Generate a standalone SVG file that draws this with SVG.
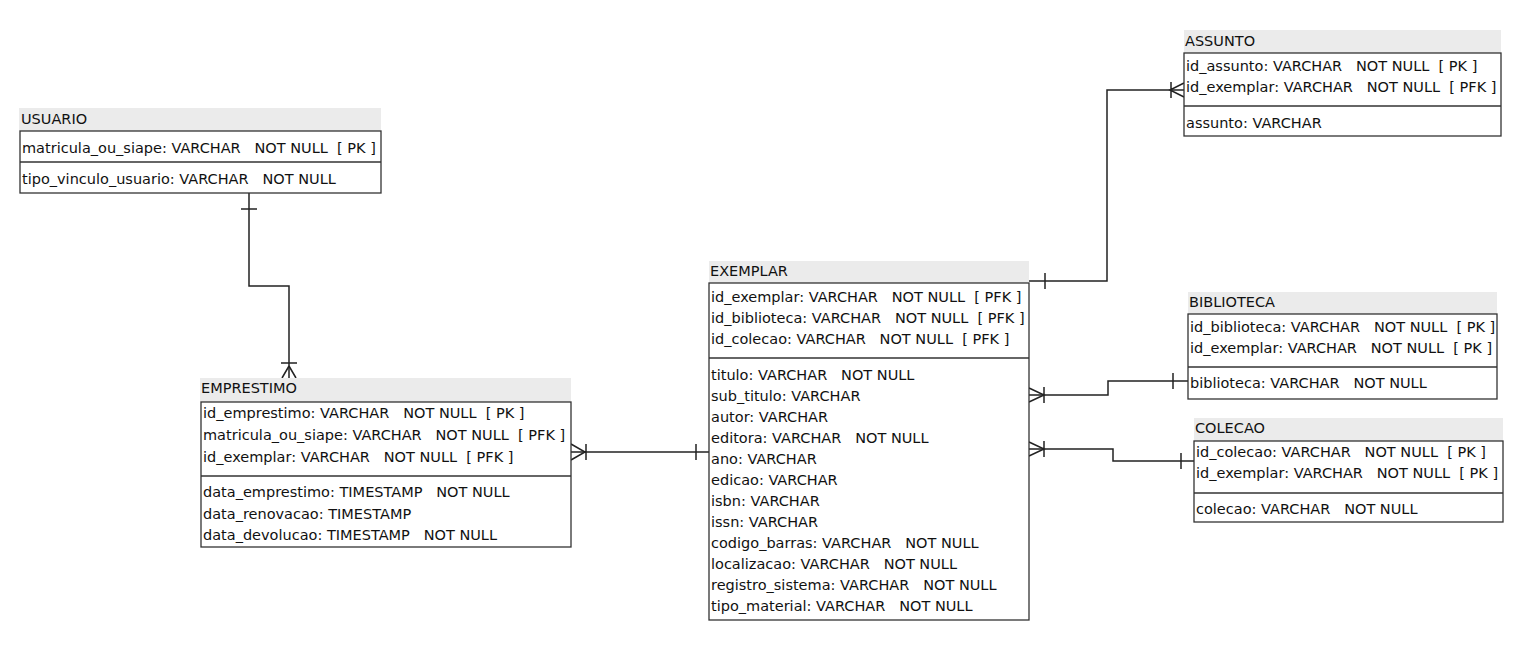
<svg xmlns="http://www.w3.org/2000/svg" width="1534" height="672" viewBox="0 0 1534 672">
<style>
.bg{fill:#ffffff}
.band{fill:#ebebeb}
.box{fill:#ffffff;stroke:#333333;stroke-width:1.3}
.sep{stroke:#333333;stroke-width:1.3}
.t{font-family:"DejaVu Sans",Verdana,sans-serif;font-size:14.5px;fill:#111111;white-space:pre}
.c{fill:none;stroke:#222222;stroke-width:1.5}
</style>
<rect class="bg" x="0" y="0" width="1534" height="672"/>
<g id="connectors">
  <path class="c" d="M249,193 V286 H289 V378"/>
  <path class="c" d="M241,209 H257"/>
  <path class="c" d="M289,366 L282,378 M289,366 L296,378 M281,363 H297"/>

  <path class="c" d="M571,452 H709"/>
  <path class="c" d="M571,444 L585,452 L571,460 M586,444 V460"/>
  <path class="c" d="M696,444 V460"/>

  <path class="c" d="M1029,281 H1107 V90 H1184"/>
  <path class="c" d="M1045,273 V289"/>
  <path class="c" d="M1184,83 L1170,90 L1184,97 M1171,82 V98"/>

  <path class="c" d="M1029,395 H1108 V381 H1188"/>
  <path class="c" d="M1029,388 L1044,395 L1029,402 M1044,387 V403"/>
  <path class="c" d="M1173,373 V389"/>

  <path class="c" d="M1029,449 H1113 V461 H1194"/>
  <path class="c" d="M1029,442 L1044,449 L1029,456 M1044,441 V457"/>
  <path class="c" d="M1181,453 V469"/>
</g>
<g id="usuario">
  <rect class="band" x="19" y="108" width="362" height="23"/>
  <rect class="box" x="20" y="131" width="361" height="62"/>
  <line class="sep" x1="20" y1="162" x2="381" y2="162"/>
  <text class="t" x="21" y="124">USUARIO</text>
  <text class="t" x="22" y="153">matricula_ou_siape: VARCHAR   NOT NULL  [ PK ]</text>
  <text class="t" x="22" y="184">tipo_vinculo_usuario: VARCHAR   NOT NULL</text>
</g>
<g id="emprestimo">
  <rect class="band" x="200" y="378" width="371" height="24"/>
  <rect class="box" x="201" y="402" width="370" height="145"/>
  <line class="sep" x1="201" y1="476" x2="571" y2="476"/>
  <text class="t" x="201" y="393">EMPRESTIMO</text>
  <text class="t" x="203" y="418">id_emprestimo: VARCHAR   NOT NULL  [ PK ]</text>
  <text class="t" x="203" y="440">matricula_ou_siape: VARCHAR   NOT NULL  [ PFK ]</text>
  <text class="t" x="203" y="462">id_exemplar: VARCHAR   NOT NULL  [ PFK ]</text>
  <text class="t" x="203" y="497">data_emprestimo: TIMESTAMP   NOT NULL</text>
  <text class="t" x="203" y="519">data_renovacao: TIMESTAMP</text>
  <text class="t" x="203" y="540">data_devolucao: TIMESTAMP   NOT NULL</text>
</g>
<g id="exemplar">
  <rect class="band" x="709" y="261" width="320" height="22"/>
  <rect class="box" x="709" y="283" width="320" height="337"/>
  <line class="sep" x1="709" y1="358" x2="1029" y2="358"/>
  <text class="t" x="710" y="276">EXEMPLAR</text>
  <text class="t" x="711" y="302">id_exemplar: VARCHAR   NOT NULL  [ PFK ]</text>
  <text class="t" x="711" y="323">id_biblioteca: VARCHAR   NOT NULL  [ PFK ]</text>
  <text class="t" x="711" y="344">id_colecao: VARCHAR   NOT NULL  [ PFK ]</text>
  <text class="t" x="711" y="380">titulo: VARCHAR   NOT NULL</text>
  <text class="t" x="711" y="401">sub_titulo: VARCHAR</text>
  <text class="t" x="711" y="422">autor: VARCHAR</text>
  <text class="t" x="711" y="443">editora: VARCHAR   NOT NULL</text>
  <text class="t" x="711" y="464">ano: VARCHAR</text>
  <text class="t" x="711" y="485">edicao: VARCHAR</text>
  <text class="t" x="711" y="506">isbn: VARCHAR</text>
  <text class="t" x="711" y="527">issn: VARCHAR</text>
  <text class="t" x="711" y="548">codigo_barras: VARCHAR   NOT NULL</text>
  <text class="t" x="711" y="569">localizacao: VARCHAR   NOT NULL</text>
  <text class="t" x="711" y="590">registro_sistema: VARCHAR   NOT NULL</text>
  <text class="t" x="711" y="611">tipo_material: VARCHAR   NOT NULL</text>
</g>
<g id="assunto">
  <rect class="band" x="1184" y="30" width="317" height="23"/>
  <rect class="box" x="1184" y="53" width="317" height="83"/>
  <line class="sep" x1="1184" y1="106" x2="1501" y2="106"/>
  <text class="t" x="1185" y="46">ASSUNTO</text>
  <text class="t" x="1186" y="71">id_assunto: VARCHAR   NOT NULL  [ PK ]</text>
  <text class="t" x="1186" y="92">id_exemplar: VARCHAR   NOT NULL  [ PFK ]</text>
  <text class="t" x="1186" y="128">assunto: VARCHAR</text>
</g>
<g id="biblioteca">
  <rect class="band" x="1188" y="292" width="309" height="22"/>
  <rect class="box" x="1188" y="314" width="309" height="85"/>
  <line class="sep" x1="1188" y1="367" x2="1497" y2="367"/>
  <text class="t" x="1189" y="307">BIBLIOTECA</text>
  <text class="t" x="1190" y="332">id_biblioteca: VARCHAR   NOT NULL  [ PK ]</text>
  <text class="t" x="1190" y="353">id_exemplar: VARCHAR   NOT NULL  [ PK ]</text>
  <text class="t" x="1190" y="388">biblioteca: VARCHAR   NOT NULL</text>
</g>
<g id="colecao">
  <rect class="band" x="1194" y="418" width="309" height="23"/>
  <rect class="box" x="1194" y="441" width="309" height="81"/>
  <line class="sep" x1="1194" y1="493" x2="1503" y2="493"/>
  <text class="t" x="1195" y="433">COLECAO</text>
  <text class="t" x="1196" y="457">id_colecao: VARCHAR   NOT NULL  [ PK ]</text>
  <text class="t" x="1196" y="478">id_exemplar: VARCHAR   NOT NULL  [ PK ]</text>
  <text class="t" x="1196" y="514">colecao: VARCHAR   NOT NULL</text>
</g>
</svg>
